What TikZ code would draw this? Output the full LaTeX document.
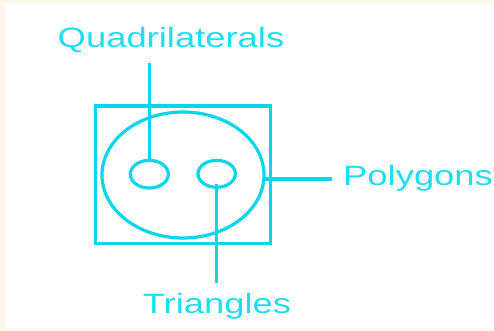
\documentclass[tikz,border=0pt]{standalone}
\usepackage{fontspec}
\setmainfont{Liberation Sans}
\usetikzlibrary{shapes.geometric}
\definecolor{cy}{RGB}{10,214,234}
\definecolor{cyt}{RGB}{30,222,240}
\definecolor{cream}{RGB}{253,247,236}
\tikzset{
  ln/.style={draw=cy, line width=3.2pt},
  oval/.style={ln, ellipse, inner sep=0pt},
  lbl/.style={text=cyt, inner sep=0pt, font=\fontsize{28}{30}\selectfont},
}
\newcommand{\wide}[1]{\scalebox{1.3}[1]{#1}}
\begin{document}
\begin{tikzpicture}[x=1pt,y=-1pt]
\useasboundingbox (0,0) rectangle (494,331);
\fill[cream] (0,0) rectangle (494,331);
\fill[white] (5,3) rectangle (494,328);
% shapes
\node[ln, minimum width=175.4pt, minimum height=137.3pt, inner sep=0pt] (sq) at (183,174.7) {};
\node[oval, minimum width=162pt, minimum height=126pt] (E) at (183,175) {};
\node[oval, minimum width=38pt, minimum height=27.7pt] (c1) at (149.3,174.2) {};
\node[oval, minimum width=37.4pt, minimum height=27pt] (c2) at (216.7,173.8) {};
% labels
\node[lbl, anchor=base] (q) at (171,48) {\wide{Quadrilaterals}};
\node[lbl, anchor=base west] (p) at (343,185) {\wide{Polygons}};
\node[lbl, anchor=base] (t) at (217,313) {\wide{Triangles}};
% connector ends
\coordinate (qend) at (149.3,63);
\coordinate (tstart) at (216.7,184.3);
\coordinate (tend) at (216.7,283);
\coordinate (pstart) at (263.5,179);
\coordinate (pend) at (332,179);
\draw[ln] (c1.north) -- (qend);
\draw[ln] (tstart) -- (tend);
\draw[ln] (pstart) -- (pend);
\end{tikzpicture}
\end{document}
